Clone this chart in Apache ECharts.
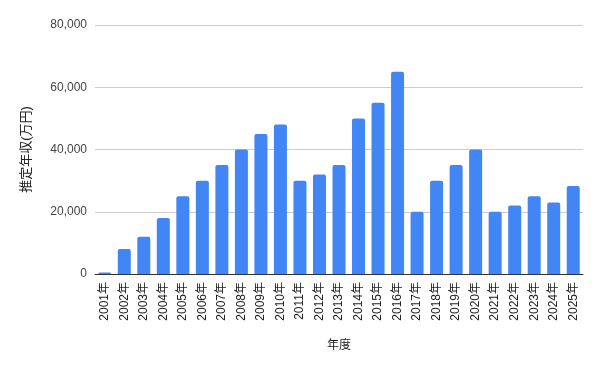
<!DOCTYPE html>
<html><head><meta charset="utf-8">
<script src="https://cdn.jsdelivr.net/npm/echarts@6/dist/echarts.min.js"></script>
<style>html,body{margin:0;padding:0;background:#fff}#c{width:601px;height:371px}</style>
</head><body><div id="c"></div>
<script>
const categories = ['2001年','2002年','2003年','2004年','2005年','2006年','2007年','2008年','2009年','2010年','2011年','2012年','2013年','2014年','2015年','2016年','2017年','2018年','2019年','2020年','2021年','2022年','2023年','2024年','2025年'];
const values = [500,8000,12000,18000,25000,30000,35000,40000,45000,48000,30000,32000,35000,50000,55000,65000,20000,30000,35000,40000,20000,22000,25000,23000,28300];
const yTicks = [0,20000,40000,60000,80000];
const font = 'Arial, "Liberation Sans", "Noto Sans CJK JP", sans-serif';
const chart = echarts.init(document.getElementById('c'), null, {renderer:'canvas'});
chart.setOption({
  animation:false,
  grid:{left:95,right:18,top:25,bottom:97},
  xAxis:{type:'category',data:categories,
    name:'年度',nameLocation:'middle',nameGap:66,
    nameTextStyle:{fontFamily:font,fontSize:12,color:'#222'},
    axisLine:{lineStyle:{color:'#333',width:1}},axisTick:{show:false},
    axisLabel:{rotate:90,interval:0,fontFamily:font,fontSize:12,color:'#222',margin:8}},
  yAxis:{type:'value',min:yTicks[0],max:yTicks[yTicks.length-1],interval:20000,
    name:'推定年収(万円)',nameLocation:'middle',nameGap:62,
    nameTextStyle:{fontFamily:font,fontSize:13,color:'#222'},
    axisLine:{show:false},axisTick:{show:false},
    splitLine:{lineStyle:{color:'#cccccc'}},
    axisLabel:{fontFamily:font,fontSize:12,color:'#444',margin:8,
      formatter:v=>v.toLocaleString('en-US')}},
  series:[{type:'bar',data:values,barWidth:13,
    itemStyle:{color:'#4285F4',borderRadius:[2,2,0,0]}}]
});
</script></body></html>
